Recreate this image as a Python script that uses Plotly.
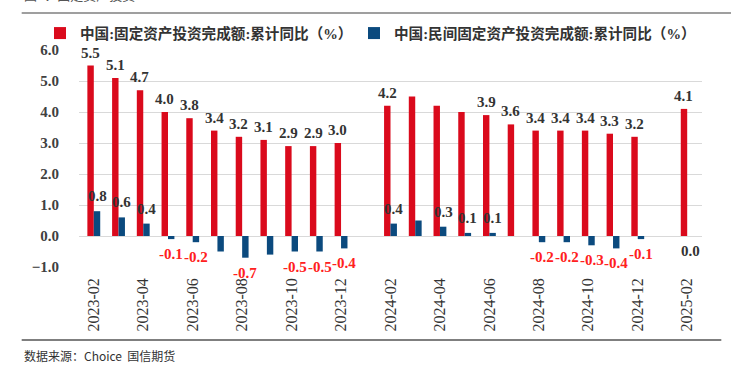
import plotly.graph_objects as go

months = ['2023-02', '2023-03', '2023-04', '2023-05', '2023-06', '2023-07', '2023-08',
          '2023-09', '2023-10', '2023-11', '2023-12', '2024-01', '2024-02', '2024-03',
          '2024-04', '2024-05', '2024-06', '2024-07', '2024-08', '2024-09', '2024-10',
          '2024-11', '2024-12', '2025-01', '2025-02']
fai_total = [5.5, 5.1, 4.7, 4.0, 3.8, 3.4, 3.2, 3.1, 2.9, 2.9, 3.0, None,
             4.2, 4.5, 4.2, 4.0, 3.9, 3.6, 3.4, 3.4, 3.4, 3.3, 3.2, None, 4.1]
fai_private = [0.8, 0.6, 0.4, -0.1, -0.2, -0.5, -0.7, -0.6, -0.5, -0.5, -0.4, None,
               0.4, 0.5, 0.3, 0.1, 0.1, 0.0, -0.2, -0.2, -0.3, -0.4, -0.1, None, 0.0]
# labels as printed in the source chart ('' = not printed)
total_labels = ['5.5', '5.1', '4.7', '4.0', '3.8', '3.4', '3.2', '3.1', '2.9', '2.9', '3.0', '',
                '4.2', '', '', '', '3.9', '3.6', '3.4', '3.4', '3.4', '3.3', '3.2', '', '4.1']
private_labels = ['0.8', '0.6', '0.4', '-0.1', '-0.2', '', '-0.7', '', '-0.5', '-0.5', '-0.4', '',
                  '0.4', '', '0.3', '0.1', '0.1', '', '-0.2', '-0.2', '-0.3', '-0.4', '-0.1', '', '0.0']
tick_months = months[::2]

name_total = '中国:固定资产投资完成额:累计同比（%）'
name_private = '中国:民间固定资产投资完成额:累计同比（%）'

RED = '#DA0A1C'
BLUE = '#0B4A7E'
SERIF = 'Liberation Serif, Noto Sans CJK SC, serif'

fig = go.Figure()
fig.add_trace(go.Bar(x=months, y=fai_total, name=name_total, marker_color=RED,
                     marker_line_width=0, legend='legend'))
fig.add_trace(go.Bar(x=months, y=fai_private, name=name_private, marker_color=BLUE,
                     marker_line_width=0, legend='legend2'))

ann = []
for m, v, t in zip(months, fai_total, total_labels):
    if t and v is not None:
        ann.append(dict(x=m, y=v, text=t, showarrow=False, xshift=-3.3,
                        yanchor='bottom', yshift=3,
                        font=dict(family=SERIF, size=15, color='#333333', weight='bold')))
for m, v, t in zip(months, fai_private, private_labels):
    if t and v is not None:
        neg = v < 0 or t == '0.0'
        ann.append(dict(x=m, y=v, text=t, showarrow=False, xshift=3.3,
                        yanchor='top' if neg else 'bottom', yshift=-5 if neg else 5,
                        font=dict(family=SERIF, size=15, weight='bold',
                                  color='#333333' if (v >= 0) else '#FF2020')))

# title (clipped at top as in the source), source note
ann.append(dict(xref='paper', yref='paper', x=-0.092, y=1.205, xanchor='left', yanchor='bottom',
                text='图4：固定资产投资', showarrow=False,
                font=dict(family='Noto Sans CJK SC', size=13, color='#555555')))
ann.append(dict(xref='paper', yref='paper', x=-0.092, y=-0.41, xanchor='left', yanchor='middle',
                text='数据来源：Choice  国信期货', showarrow=False,
                font=dict(family='Noto Sans CJK SC, DejaVu Sans Mono', size=12, color='#333333')))

legend_style = dict(orientation='h', y=1.078, xanchor='left', yanchor='middle',
                    font=dict(family=SERIF, size=14.6, color='#333333', weight='bold'),
                    itemwidth=30, bgcolor='rgba(0,0,0,0)')

fig.update_layout(
    width=731, height=368,
    margin=dict(l=79, r=29, t=50, b=101, autoexpand=False),
    paper_bgcolor='white', plot_bgcolor='white',
    barmode='group', bargap=0.48, bargroupgap=0,
    font=dict(family=SERIF, color='#333333'),
    showlegend=True,
    legend=dict(x=-0.0626, **legend_style),
    legend2=dict(x=0.4414, **legend_style),
    annotations=ann,
    shapes=[
        dict(type='line', xref='paper', yref='paper', x0=-0.092, x1=1.047, y0=1.17, y1=1.17,
             line=dict(color='#7F7F7F', width=1.5)),
        dict(type='line', xref='paper', yref='paper', x0=-0.092, x1=1.031, y0=-0.336, y1=-0.336,
             line=dict(color='#7F7F7F', width=2)),
    ],
)
fig.update_xaxes(type='category', categoryorder='array', categoryarray=months,
                 tickmode='array', tickvals=tick_months, ticktext=tick_months,
                 tickangle=-90, ticks='', showgrid=False, showline=False, zeroline=False,
                 ticklabelstandoff=7,
                 tickfont=dict(family=SERIF, size=16, color='#333333'))
fig.update_yaxes(range=[-1.0, 6.0], dtick=1.0, tick0=0, tickformat='.1f',
                 showgrid=True, gridcolor='#D9D9D9', gridwidth=1,
                 zeroline=True, zerolinecolor='#D9D9D9', zerolinewidth=1,
                 showline=False, ticks='', ticklabelstandoff=19,
                 tickfont=dict(family=SERIF, size=15, color='#404040', weight='bold'))

fig.write_html('out.html', config={'displayModeBar': False},
               post_script="document.body.style.margin='0';")
